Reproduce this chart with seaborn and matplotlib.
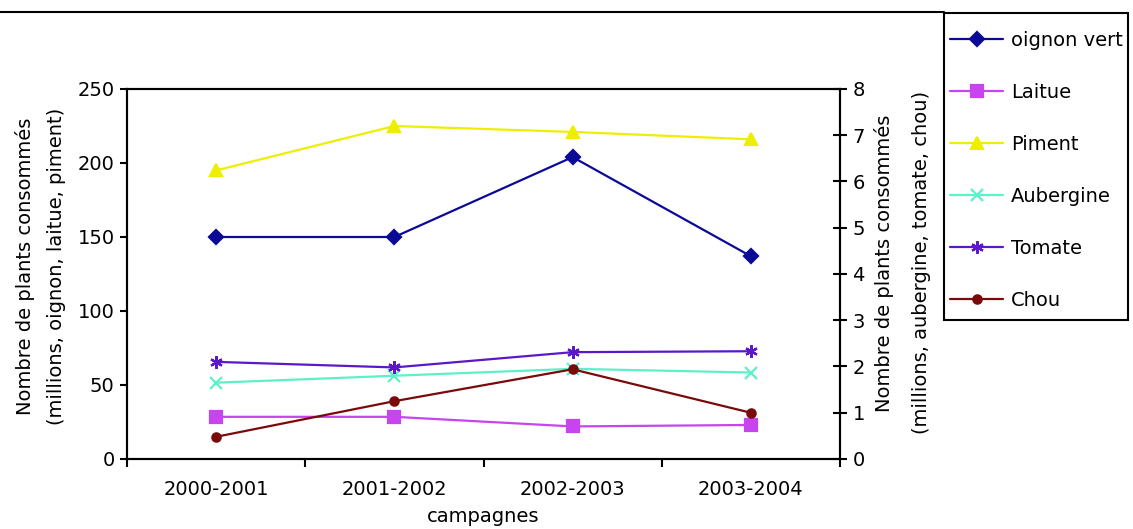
import matplotlib
matplotlib.use("Agg")
import matplotlib.pyplot as plt
from matplotlib.lines import Line2D
from matplotlib.patches import Rectangle
import seaborn as sns

sns.set_theme(style="ticks")
plt.rcParams["font.family"] = ["DejaVu Sans"]
plt.rcParams["text.color"] = "black"

# ---- data ----
campagnes = ["2000-2001", "2001-2002", "2002-2003", "2003-2004"]
oignon_vert = [150, 150, 204, 137]      # left axis
laitue = [28.5, 28.5, 22, 23]           # left axis
piment = [195, 225, 221, 216]           # left axis
aubergine = [1.65, 1.8, 1.95, 1.87]     # right axis
tomate = [2.1, 1.98, 2.31, 2.33]        # right axis
chou = [0.48, 1.25, 1.94, 1.0]          # right axis

FS = 14
W, H = 1133, 529
fig = plt.figure(figsize=(W / 100, H / 100), dpi=100)
L, R, T, B = 127, 840, 89, 459
ax = fig.add_axes([L / W, 1 - B / H, (R - L) / W, (B - T) / H])
ax2 = ax.twinx()

pos = list(range(len(campagnes)))

left_series = [
    ("oignon vert", oignon_vert, "#0A0A96", "D", 7),
    ("Laitue", laitue, "#C844EE", "s", 8),
    ("Piment", piment, "#EEEE00", "^", 9),
]
right_series = [
    ("Aubergine", aubergine, "#5EF0C8", "x", 8),
    ("Tomate", tomate, "#5A18C8", (6, 2, 0), 9),
    ("Chou", chou, "#7A0A0A", "o", 6),
]

handles, labels = [], []
for axis, series in ((ax, left_series), (ax2, right_series)):
    for name, vals, col, mk, ms in series:
        sns.lineplot(x=pos, y=vals, ax=axis, color=col, marker=mk, markersize=ms,
                     markeredgecolor=col, markerfacecolor=col, markeredgewidth=1.6,
                     linewidth=1.6)
        handles.append(Line2D([0], [0], color=col, marker=mk, markersize=ms,
                              markeredgecolor=col, markerfacecolor=col,
                              markeredgewidth=1.6, linewidth=1.6))
        labels.append(name)

# x axis
ax.set_xlim(-0.5, len(campagnes) - 0.5)
ax.set_xticks(pos)
ax.set_xticklabels(campagnes, fontsize=FS)
ax.tick_params(axis="x", which="major", length=0, pad=15, colors="black")
ax.set_xticks([p - 0.5 for p in pos] + [len(campagnes) - 0.5], minor=True)
ax.tick_params(axis="x", which="minor", length=6, width=1.5, direction="out", color="black")
ax.set_xlabel("campagnes", fontsize=FS, color="black")
ax.xaxis.set_label_coords(0.5, -0.13)

# left y axis
ax.set_ylim(0, 250)
ax.set_yticks(range(0, 251, 50))
ax.tick_params(axis="y", length=5, width=1.5, direction="out", colors="black",
               labelsize=FS, pad=4)
ax.set_ylabel("Nombre de plants consommés\n(millions, oignon, laitue, piment)",
              fontsize=FS, color="black", linespacing=1.8)
ax.yaxis.set_label_coords(-0.085, 0.52)

# right y axis
ax2.set_ylim(0, 8)
ax2.set_yticks(range(0, 9))
ax2.tick_params(axis="y", length=10, width=1.5, direction="inout", colors="black",
                labelsize=FS, pad=4)
ax2.set_ylabel("Nombre de plants consommés\n(millions, aubergine, tomate, chou)",
               fontsize=FS, color="black", linespacing=2.2, rotation=90)
ax2.yaxis.set_label_coords(1.048, 0.53)

for a in (ax, ax2):
    for s in a.spines.values():
        s.set_visible(True)
        s.set_color("black")
        s.set_linewidth(1.5)
    a.grid(False)

# chart-area border top line
fig.add_artist(Line2D([0, 944 / W], [1 - 12 / H, 1 - 12 / H], color="black", lw=1.5))

# legend box
fig.add_artist(Rectangle((944 / W, 1 - 320 / H), (1128 - 944) / W, (320 - 13) / H,
                         transform=fig.transFigure, fill=False, ec="black", lw=1.5))
fig.legend(handles, labels, loc="upper left", bbox_to_anchor=(950 / W, 1 - 31 / H),
           frameon=False, borderpad=0, borderaxespad=0, handlelength=2.75,
           handletextpad=0.4, labelspacing=1.7, fontsize=FS, numpoints=1,
           labelcolor="black")

fig.savefig("out.png", dpi=100, facecolor="white")
